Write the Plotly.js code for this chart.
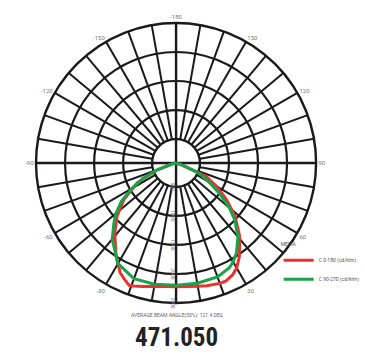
<!DOCTYPE html>
<html>
<head>
<meta charset="utf-8">
<script src="https://cdn.plot.ly/plotly-3.0.1.min.js"></script>
<style>html,body{margin:0;padding:0;background:#fff;}#chart{width:365px;height:357px;}</style>
</head>
<body>
<div id="chart"></div>
<script>
// Series: C0-180 plane (red) and C90-270 plane (green), cd/klm
var redTheta   = [-90,-75,-70,-63,-55,-48,-41,-33,-27,-24,-21,-19,-15,-10,0,10,14,20,23,27,30,34,41,48,54,60,66,70,90];
var redValues  = [90,175,432,842,1184,1457,1697,1987,2209,2278,2346,2329,2290,2244,2221,2244,2267,2295,2295,2244,2175,2038,1758,1454,1163,893,654,175,90];
var greenTheta  = [-90,-75,-70,-65,-60,-55,-50,-46,-40,-30,-20,-10,0,10,20,27,30,34,40,46,50,55,60,65,67,70,80,90];
var greenValues = [90,175,432,722,962,1235,1440,1577,1799,2090,2209,2209,2192,2192,2175,2114,2056,1950,1748,1491,1286,996,739,551,466,227,124,90];
var seriesNames = ["C 0-180 (cd/klm)", "C 90-270 (cd/klm)"];
var radialTicks = [500, 1000, 1500, 2000, 2500];
var radialRange = [90, 2500];
var angleLabelVals = [0, 30, 60, 90, 120, 150, 180, 210, 240, 270, 300, 330];
var angleLabelText = ["", "30", "60", "90", "120", "150", "-180", "-150", "-120", "-90", "-60", "-30"];
var legendTitle = "MEDIA";
var beamText = "AVERAGE BEAM ANGLE(50%): 121.4 DEG";
var codeText = "471.050";

var gridVals = [], gridText = [];
for (var a = 0; a < 360; a += 10) {
  gridVals.push(a);
  var idx = angleLabelVals.indexOf(a);
  gridText.push(idx >= 0 ? angleLabelText[idx] : "");
}
// center disc (hole) at first ring
var discTheta = [], discR = [];
for (var t = 0; t <= 360; t += 5) { discTheta.push(t); discR.push(radialTicks[0]); }
var outer = radialTicks[radialTicks.length - 1];

var ink = "#1a1a1a";
var traces = [
  {type: "scatterpolar", r: discR, theta: discTheta, mode: "lines", fill: "toself",
   fillcolor: "#ffffff", line: {color: ink, width: 2.2}, showlegend: false, hoverinfo: "skip"},
  {type: "scatterpolar", r: [outer, outer, null, outer, outer], theta: [0, 180, null, 90, 270],
   mode: "lines", line: {color: ink, width: 2.4}, showlegend: false, hoverinfo: "skip"},
  {type: "scatterpolar", r: redValues, theta: redTheta, mode: "lines", name: seriesNames[0],
   line: {color: "#e8322b", width: 3}},
  {type: "scatterpolar", r: greenValues, theta: greenTheta, mode: "lines", name: seriesNames[1],
   line: {color: "#1aa24a", width: 3}}
];

var layout = {
  width: 365, height: 357,
  margin: {l: 0, r: 0, t: 0, b: 0},
  paper_bgcolor: "#ffffff",
  showlegend: true,
  legend: {x: 0.785, y: 0.33, xanchor: "left", yanchor: "top",
    title: {text: legendTitle, side: "top", font: {size: 5, color: "#555"}},
    font: {size: 5, color: "#555", family: "Roboto"}, bgcolor: "rgba(0,0,0,0)",
    tracegroupgap: 0, itemwidth: 30},
  polar: {
    domain: {x: [0.1014, 0.8904], y: [0.1401, 0.9468]},
    bgcolor: "#ffffff",
    hole: 0,
    angularaxis: {rotation: -90, direction: "counterclockwise", tickmode: "array",
      tickvals: gridVals, ticktext: gridText, showgrid: true, gridcolor: ink, gridwidth: 2,
      showline: true, linecolor: ink, linewidth: 2.4, ticks: "",
      tickfont: {size: 6, color: "#777", family: "Roboto"}},
    radialaxis: {range: radialRange, tickmode: "array", tickvals: radialTicks,
      ticktext: radialTicks.map(String), showgrid: true, gridcolor: ink, gridwidth: 2.2,
      showline: false, ticks: "", angle: -90, tickangle: 0,
      tickfont: {size: 5, color: "#777", family: "Roboto"}}
  },
  annotations: [
    {text: beamText, xref: "paper", yref: "paper", x: 0.5, y: (357 - 315) / 357,
     xanchor: "center", yanchor: "middle", showarrow: false,
     font: {size: 5, color: "#666", family: "Roboto"}},
    {text: "<b>" + codeText + "</b>", xref: "paper", yref: "paper", x: 0.497, y: (357 - 337) / 357,
     xanchor: "center", yanchor: "middle", showarrow: false,
     font: {size: 25, color: "#222", family: "Liberation Sans Narrow, Roboto Condensed, Roboto"}}
  ]
};
Plotly.newPlot("chart", traces, layout, {displayModeBar: false, staticPlot: true});
</script>
</body>
</html>
